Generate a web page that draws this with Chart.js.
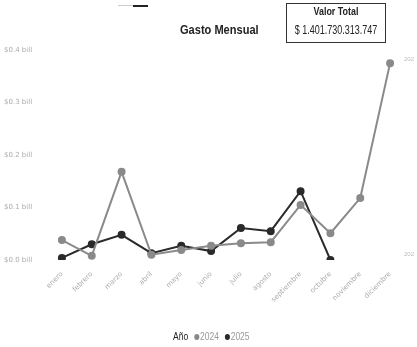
<!DOCTYPE html>
<html lang="es">
<head>
  <meta charset="UTF-8">
  <title>Gasto Mensual</title>
  <script src="https://cdn.jsdelivr.net/npm/chart.js"></script>
  <style>
    html, body { margin: 0; padding: 0; background: #fff; }
    body { width: 417px; height: 347px; position: relative; overflow: hidden;
           font-family: "Liberation Sans", Arial, sans-serif; }
    #wrap { position: absolute; left: 0; top: 0; width: 417px; height: 347px; }
    .title { position: absolute; left: 180px; top: 22px; font-size: 13px; font-weight: bold; color: #222;
             transform: scaleX(0.85); transform-origin: left top; white-space: nowrap; }
    .card { position: absolute; left: 286px; top: 3px; width: 98px; height: 38px;
            border: 1px solid #333; color: #222; }
    .card div { position: absolute; left: 50%; white-space: nowrap; transform-origin: center top; }
    .card .lbl { top: 1px; font-size: 10.5px; font-weight: bold; transform: translateX(-50%) scaleX(0.85); }
    .card .val { top: 19px; font-size: 12.5px; transform: translateX(-50%) scaleX(0.72); }
    .legend { position: absolute; left: 173px; top: 331px; font-size: 10px; color: #999; white-space: nowrap;
              transform: scaleX(0.85); transform-origin: left top; }
    .legend b { font-weight: normal; color: #222; margin-right: 5px; }
    .dot { display: inline-block; width: 6px; height: 6px; border-radius: 50%; margin: 0 1px 0 2px; }
    .bar1 { position: absolute; left: 118px; top: 5px; width: 15px; height: 1px; background: #ccc; }
    .bar2 { position: absolute; left: 133px; top: 5px; width: 15px; height: 2px; background: #222; }
    .side { position: absolute; left: 404px; font-size: 6px; color: #bbb; }
  </style>
</head>
<body>
  <div id="wrap"><canvas id="gasto" width="417" height="347"></canvas></div>
  <div class="bar1"></div><div class="bar2"></div>
  <div class="title">Gasto Mensual</div>
  <div class="card">
    <div class="lbl">Valor Total</div>
    <div class="val">$ 1.401.730.313.747</div>
  </div>
  <div class="side" style="top:56px">202</div>
  <div class="side" style="top:251px">202</div>
  <div class="legend">
    <b>Año</b><span class="dot" style="background:#888"></span>2024
    <span class="dot" style="background:#2a2a2a;margin-left:4px"></span>2025
  </div>

  <script>
    // meses y gasto (billones de pesos)
    const meses = ['enero', 'febrero', 'marzo', 'abril', 'mayo', 'junio', 'julio',
                   'agosto', 'septiembre', 'octubre', 'noviembre', 'diciembre'];
    const gasto2024 = [0.038, 0.008, 0.168, 0.010, 0.019, 0.027, 0.032, 0.034, 0.105, 0.051, 0.118, 0.375];
    const gasto2025 = [0.004, 0.030, 0.048, 0.013, 0.027, 0.017, 0.061, 0.055, 0.131, 0.000, null, null];
    const ticksY = ['$0.0 bill', '$0.1 bill', '$0.2 bill', '$0.3 bill', '$0.4 bill'];

    const ctx = document.getElementById('gasto');
    new Chart(ctx, {
      type: 'line',
      data: {
        labels: meses,
        datasets: [
          {
            label: '2024',
            data: gasto2024,
            borderColor: '#8a8a8a',
            backgroundColor: '#8a8a8a',
            borderWidth: 2,
            pointRadius: 3,
            tension: 0
          },
          {
            label: '2025',
            data: gasto2025,
            borderColor: '#2a2a2a',
            backgroundColor: '#2a2a2a',
            borderWidth: 2,
            pointRadius: 3,
            tension: 0
          }
        ]
      },
      options: {
        responsive: false,
        animation: false,
        layout: { padding: { left: 4, right: 12, top: 50, bottom: 37 } },
        plugins: {
          legend: { display: false },
          tooltip: { enabled: false }
        },
        scales: {
          x: {
            offset: true,
            grid: { display: false },
            border: { display: false },
            ticks: {
              minRotation: 45, maxRotation: 45, color: '#aaa', padding: 2,
              font: { size: 7, family: 'DejaVu Sans' }
            },
            afterFit: s => { s.height = 50; }
          },
          y: {
            min: 0, max: 0.4,
            grid: { display: false },
            border: { display: false },
            ticks: {
              stepSize: 0.1, crossAlign: 'far', color: '#aaa',
              font: { size: 7, family: 'DejaVu Sans' },
              callback: (v) => ticksY[Math.round(v * 10)]
            },
            afterFit: s => { s.width = 43; }
          }
        }
      }
    });
  </script>
</body>
</html>
